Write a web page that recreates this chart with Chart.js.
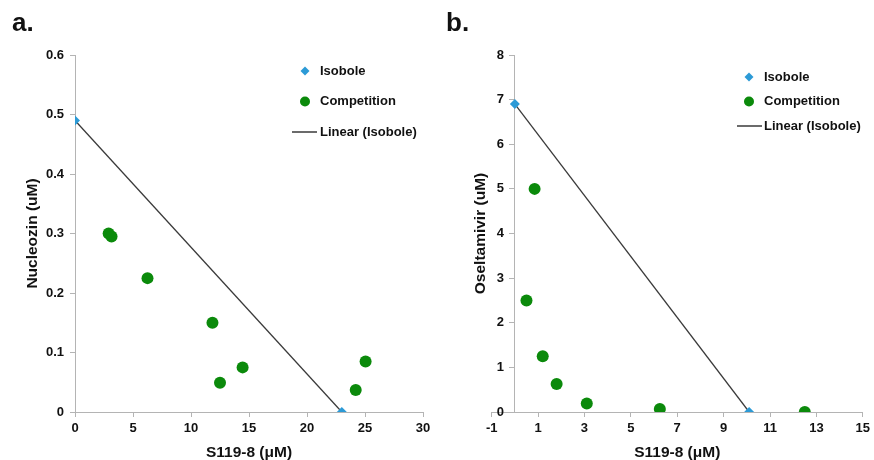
<!DOCTYPE html>
<html>
<head>
<meta charset="utf-8">
<script src="https://cdn.jsdelivr.net/npm/chart.js@4.4.0/dist/chart.umd.min.js"></script>
<style>
  body { margin: 0; background: #fff; font-family: "Liberation Sans", Arial, sans-serif; }
  #wrap { position: relative; width: 874px; height: 460px; overflow: hidden; }
  canvas { position: absolute; top: 0; }
  #chartA { left: 0; }
  #chartB { left: 440px; }
  .tag { position: absolute; top: 9px; font-size: 26px; font-weight: bold; color: #111; line-height: 26px; }
</style>
</head>
<body>
<div id="wrap">
  <canvas id="chartA" width="440" height="460"></canvas>
  <canvas id="chartB" width="434" height="460"></canvas>
  <div class="tag" style="left:12px">a.</div>
  <div class="tag" style="left:446px">b.</div>
</div>
<script>
// isobologramas: nucleozin / oseltamivir vs S119-8

// panel a
var isoXA  = [0, 23];
var isoYA  = [0.49, 0];
var compXA = [2.9, 3.15, 6.25, 11.85, 12.5, 14.45, 24.2, 25.05];
var compYA = [0.30, 0.295, 0.225, 0.15, 0.049, 0.075, 0.037, 0.085];
var xTicksA = [0, 30, 5];     // min, max, step
var yTicksA = [0, 0.6, 0.1];

// panel b
var isoXB  = [0, 10.1];
var isoYB  = [6.9, 0];
var compXB = [0.5, 0.85, 1.2, 1.8, 3.1, 6.25, 12.5];
var compYB = [2.5, 5.0, 1.25, 0.63, 0.19, 0.07, 0];
var xTicksB = [-1, 15, 2];
var yTicksB = [0, 8, 1];

var seriesNames = ['Isobole', 'Competition', 'Linear (Isobole)'];

var isoColor  = '#2c9ad6';
var compColor = '#0b8a0b';
var lineColor = '#3a3a3a';
var axisColor = '#b4b4b4';
var fontFam   = '"Liberation Sans", Arial, sans-serif';
var tickFont  = { family: fontFam, size: 13, weight: 'bold' };
var titleFont = { family: fontFam, size: 15.5, weight: 'bold', lineHeight: 1 };

function pairs(xs, ys) {
    return xs.map(function (x, i) { return { x: x, y: ys[i] }; });
}

// leyenda dibujada a mano (vertical, dentro del area)
var isoLegend = {
    id: 'isoLegend',
    afterDraw: function (chart, args, opts) {
        var ctx = chart.ctx;
        ctx.save();
        ctx.font = 'bold 13px ' + fontFam;
        ctx.textBaseline = 'middle';
        chart.data.datasets.forEach(function (ds, i) {
            var y = opts.top + i * opts.gap;
            if (ds.showLine) {
                ctx.strokeStyle = ds.borderColor;
                ctx.lineWidth = 1.5;
                ctx.beginPath();
                ctx.moveTo(opts.lineX0, y);
                ctx.lineTo(opts.lineX1, y);
                ctx.stroke();
            } else {
                ctx.fillStyle = ds.backgroundColor;
                Chart.helpers.drawPoint(ctx, { pointStyle: ds.pointStyle, radius: opts.radius[i], rotation: 0, borderWidth: 0 }, opts.markX, y);
            }
            ctx.fillStyle = '#111';
            ctx.fillText(ds.label, opts.textX, y);
        });
        ctx.restore();
    }
};

function datasets(isoX, isoY, compX, compY) {
    return [
        {
            label: seriesNames[0],
            data: pairs(isoX, isoY),
            pointStyle: 'rectRot',
            pointRadius: 5,
            backgroundColor: isoColor,
            borderColor: isoColor,
            borderWidth: 0,
            order: 1
        },
        {
            label: seriesNames[1],
            data: pairs(compX, compY),
            pointStyle: 'circle',
            pointRadius: 6,
            backgroundColor: compColor,
            borderColor: compColor,
            borderWidth: 0,
            order: 2
        },
        {
            label: seriesNames[2],
            data: pairs(isoX, isoY),
            showLine: true,
            pointRadius: 0,
            borderColor: lineColor,
            borderWidth: 1.3,
            backgroundColor: lineColor,
            order: 3
        }
    ];
}

function axisX(range) {
    return {
        type: 'linear',
        position: 'bottom',
        min: range[0],
        max: range[1],
        ticks: { stepSize: range[2], font: tickFont, color: '#111', padding: 4, autoSkip: false, maxRotation: 0 },
        grid: { drawOnChartArea: false, tickLength: 5, color: axisColor },
        border: { color: axisColor },
        title: { display: true, text: 'S119-8 (μM)', font: titleFont, color: '#111', padding: { top: 0, bottom: 0 } },
        afterFit: function (s) { s.height = 48; }
    };
}

function yTicks(range) {
    return { stepSize: range[2], font: tickFont, color: '#111', padding: 6 };
}

new Chart(document.getElementById('chartA'), {
    type: 'scatter',
    data: { datasets: datasets(isoXA, isoYA, compXA, compYA) },
    options: {
        responsive: false,
        animation: false,
        devicePixelRatio: 1,
        layout: { padding: { left: 10, right: 17, top: 55, bottom: 0 } },
        plugins: {
            legend: { display: false },
            tooltip: { enabled: false },
            isoLegend: { top: 71, gap: 30.5, markX: 305, lineX0: 292, lineX1: 317, textX: 320, radius: [4.5, 5, 0] }
        },
        scales: {
            x: axisX(xTicksA),
            y: {
                type: 'linear',
                position: 'left',
                min: yTicksA[0],
                max: yTicksA[1],
                ticks: yTicks(yTicksA),
                grid: { drawOnChartArea: false, tickLength: 5, color: axisColor },
                border: { color: axisColor },
                title: { display: true, text: 'Nucleozin (uM)', font: titleFont, color: '#111', padding: { top: 15, bottom: 0 } },
                afterFit: function (s) { s.width = 65; }
            }
        }
    },
    plugins: [isoLegend]
});

var yB = yTicks(yTicksB);
// con position {x:0} las etiquetas quedan pegadas al eje; se separan con espacios
yB.callback = function (v) { return v + '   '; };

new Chart(document.getElementById('chartB'), {
    type: 'scatter',
    data: { datasets: datasets(isoXB, isoYB, compXB, compYB) },
    options: {
        responsive: false,
        animation: false,
        devicePixelRatio: 1,
        layout: { padding: { left: 10, right: 9, top: 55, bottom: 0 } },
        plugins: {
            legend: { display: false },
            tooltip: { enabled: false },
            isoLegend: { top: 77, gap: 24.5, markX: 309, lineX0: 297, lineX1: 322, textX: 324, radius: [4.5, 5, 0] }
        },
        scales: {
            x: axisX(xTicksB),
            // eje y cruzando en x = 0
            y: {
                type: 'linear',
                position: { x: 0 },
                min: yTicksB[0],
                max: yTicksB[1],
                ticks: yB,
                grid: { drawOnChartArea: false, tickLength: 5, color: axisColor },
                border: { color: axisColor },
                afterFit: function (s) { s.width = 0; }
            },
            // solo para el titulo del eje y
            yt: {
                type: 'linear',
                position: 'left',
                ticks: { display: false },
                grid: { display: false },
                border: { display: false },
                title: { display: true, text: 'Oseltamivir (uM)', font: titleFont, color: '#111', padding: { top: 23, bottom: 0 } },
                afterFit: function (s) { s.width = 41.7; }
            }
        }
    },
    plugins: [isoLegend]
});
</script>
</body>
</html>
